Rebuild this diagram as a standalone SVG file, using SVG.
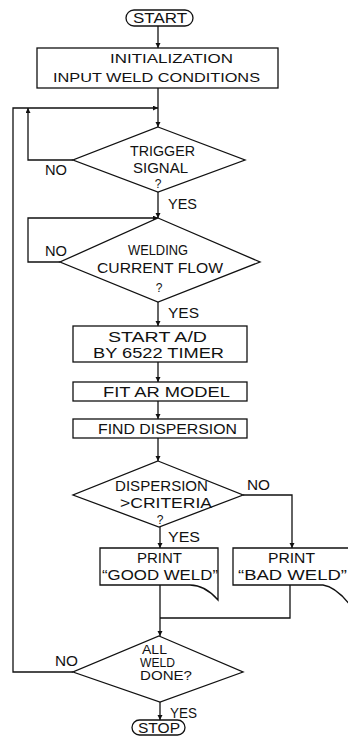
<svg xmlns="http://www.w3.org/2000/svg" width="348" height="747" viewBox="0 0 348 747">
<style>
.s{fill:#fff;stroke:#111;stroke-width:1.3}
.c{fill:none;stroke:#111;stroke-width:1.3}
text{font-family:"Liberation Sans","DejaVu Sans",sans-serif;font-size:15px;fill:#111}
.sm{font-size:13.5px}
.xs{font-size:12.5px}
.q{font-size:12px;text-anchor:middle}
</style>
<defs>
<marker id="a" markerUnits="userSpaceOnUse" markerWidth="6" markerHeight="6" refX="5" refY="2.5" orient="auto">
<path d="M0,0 L5,2.5 L0,5 Z" fill="#111"/>
</marker>
</defs>
<rect width="348" height="747" fill="#fff"/>
<g id="connectors">
<path class="c" d="M158,26 V48" marker-end="url(#a)"/>
<path class="c" d="M158,88 V127" marker-end="url(#a)"/>
<path class="c" d="M73,672 H13 V108 H158" marker-end="url(#a)"/>
<path class="c" d="M73,160 H28 V108" marker-end="url(#a)"/>
<path class="c" d="M158,192 V218" marker-end="url(#a)"/>
<path class="c" d="M60,262 H28 V218 H158" marker-end="url(#a)"/>
<path class="c" d="M158,302 V326" marker-end="url(#a)"/>
<path class="c" d="M158,362 V382" marker-end="url(#a)"/>
<path class="c" d="M158,401 V419" marker-end="url(#a)"/>
<path class="c" d="M158,438 V461" marker-end="url(#a)"/>
<path class="c" d="M160,527 V548" marker-end="url(#a)"/>
<path class="c" d="M243,495 H292 V548" marker-end="url(#a)"/>
<path class="c" d="M290,585 V618 H160"/>
<path class="c" d="M160,585 V636" marker-end="url(#a)"/>
<path class="c" d="M160,702 V720" marker-end="url(#a)"/>
<text x="45" y="175" textLength="22" lengthAdjust="spacingAndGlyphs">NO</text>
<text x="168" y="209" textLength="29" lengthAdjust="spacingAndGlyphs">YES</text>
<text x="45" y="256" textLength="22" lengthAdjust="spacingAndGlyphs">NO</text>
<text x="168" y="318" textLength="31" lengthAdjust="spacingAndGlyphs">YES</text>
<text x="247" y="490" textLength="23" lengthAdjust="spacingAndGlyphs">NO</text>
<text x="168" y="542" textLength="32" lengthAdjust="spacingAndGlyphs">YES</text>
<text x="55" y="666" textLength="23" lengthAdjust="spacingAndGlyphs">NO</text>
<text x="170" y="718" textLength="27" lengthAdjust="spacingAndGlyphs">YES</text>
</g>
<g id="start">
<rect class="s" x="126" y="10" width="67" height="16" rx="8"/>
<text x="133" y="23" textLength="54" lengthAdjust="spacingAndGlyphs">START</text>
</g>
<g id="init">
<rect class="s" x="37" y="48" width="241" height="40"/>
<text class="sm" x="110" y="63" textLength="123" lengthAdjust="spacingAndGlyphs">INITIALIZATION</text>
<text class="sm" x="53" y="82" textLength="207" lengthAdjust="spacingAndGlyphs">INPUT WELD CONDITIONS</text>
</g>
<g id="trigger">
<polygon class="s" points="158,127 245,160 158,192 73,160"/>
<text x="130" y="156" textLength="65" lengthAdjust="spacingAndGlyphs">TRIGGER</text>
<text x="133" y="173" textLength="55" lengthAdjust="spacingAndGlyphs">SIGNAL</text>
<text class="q" x="158" y="188">?</text>
</g>
<g id="welding">
<polygon class="s" points="158,218 260,262 158,302 60,262"/>
<text x="128" y="255" textLength="60" lengthAdjust="spacingAndGlyphs">WELDING</text>
<text x="97" y="273" textLength="126" lengthAdjust="spacingAndGlyphs">CURRENT FLOW</text>
<text class="q" x="159" y="292">?</text>
</g>
<g id="startad">
<rect class="s" x="73" y="326" width="174" height="36"/>
<text x="108" y="342" textLength="99" lengthAdjust="spacingAndGlyphs">START A/D</text>
<text x="93" y="358" textLength="131" lengthAdjust="spacingAndGlyphs">BY 6522 TIMER</text>
</g>
<g id="fitar">
<rect class="s" x="73" y="382" width="174" height="19"/>
<text x="103" y="397" textLength="127" lengthAdjust="spacingAndGlyphs">FIT AR MODEL</text>
</g>
<g id="finddisp">
<rect class="s" x="73" y="419" width="174" height="19"/>
<text x="98" y="434" textLength="139" lengthAdjust="spacingAndGlyphs">FIND DISPERSION</text>
</g>
<g id="dispcrit">
<polygon class="s" points="158,461 243,495 159,527 73,495"/>
<text x="115" y="491" textLength="93" lengthAdjust="spacingAndGlyphs">DISPERSION</text>
<text x="120" y="508" textLength="92" lengthAdjust="spacingAndGlyphs">&gt;CRITERIA</text>
<text class="q" x="160" y="524">?</text>
</g>
<g id="good">
<path class="s" d="M100,548 H218 V600 Q205,585 190,585 H100 Z"/>
<text x="137" y="563" textLength="45" lengthAdjust="spacingAndGlyphs">PRINT</text>
<text x="102" y="580" textLength="116" lengthAdjust="spacingAndGlyphs">“GOOD WELD”</text>
</g>
<g id="bad">
<path class="s" d="M350,548 H233 V585 H323 Q336,587 350,605"/>
<text x="268" y="563" textLength="47" lengthAdjust="spacingAndGlyphs">PRINT</text>
<text x="238" y="580" textLength="109" lengthAdjust="spacingAndGlyphs">“BAD WELD”</text>
</g>
<g id="alldone">
<polygon class="s" points="159,636 243,672 160,702 73,672"/>
<text class="xs" x="142" y="654" textLength="25" lengthAdjust="spacingAndGlyphs">ALL</text>
<text class="xs" x="140" y="667" textLength="35" lengthAdjust="spacingAndGlyphs">WELD</text>
<text class="xs" x="140" y="680" textLength="52" lengthAdjust="spacingAndGlyphs">DONE?</text>
</g>
<g id="stop">
<rect class="s" x="132" y="720" width="53" height="15" rx="7.5"/>
<text x="138" y="733" textLength="42" lengthAdjust="spacingAndGlyphs">STOP</text>
</g>
</svg>
